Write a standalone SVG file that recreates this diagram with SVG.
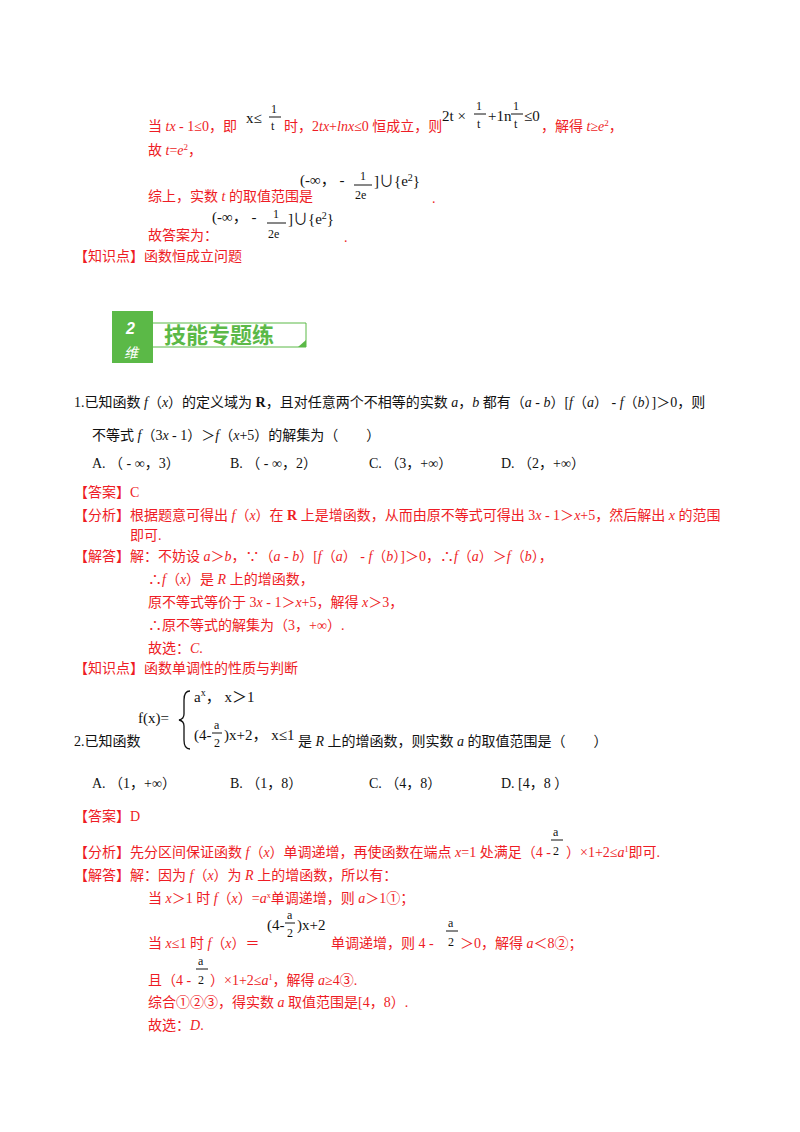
<svg xmlns="http://www.w3.org/2000/svg" width="800" height="1132" viewBox="0 0 800 1132">
<style>
text{font-family:"Liberation Serif","Noto Sans CJK SC",serif;font-size:14px}
.r{fill:#ee1c25}
.k{fill:#111}
.m{fill:#111}
text.m{font-size:15px}
text.s{font-size:12px}
.i{font-style:italic}
</style>
<rect width="800" height="1132" fill="#fff"/>
<g id="part1">
<text x="148" y="131" class="r">当 <tspan class="i">tx</tspan> - 1≤0，即</text>
<text x="246" y="123" class="m">x≤</text>
<text x="271" y="113" class="m s">1</text><line x1="269" y1="117" x2="281" y2="117" stroke="#111"/><text x="271" y="130" class="m s">t</text>
<text x="284" y="131" class="r">时，2<tspan class="i">tx</tspan>+<tspan class="i">lnx</tspan>≤0 恒成立，则</text>
<text x="442" y="121" class="m">2t ×</text>
<text x="476" y="110" class="m s">1</text><line x1="474" y1="114" x2="486" y2="114" stroke="#111"/><text x="477" y="128" class="m s">t</text>
<text x="488" y="121" class="m">+1n</text>
<text x="513" y="110" class="m s">1</text><line x1="511" y1="114" x2="523" y2="114" stroke="#111"/><text x="514" y="128" class="m s">t</text>
<text x="524" y="121" class="m">≤0</text>
<text x="541" y="131" class="r">，解得 <tspan class="i">t</tspan>≥<tspan class="i">e</tspan><tspan dy="-5" font-size="9">2</tspan><tspan dy="5">，</tspan></text>
<text x="148" y="155" class="r">故 <tspan class="i">t</tspan>=<tspan class="i">e</tspan><tspan dy="-5" font-size="9">2</tspan><tspan dy="5">，</tspan></text>
<text x="148" y="201" class="r">综上，实数 <tspan class="i">t</tspan> 的取值范围是</text>
<text x="300" y="185" class="m">(-∞， -</text>
<text x="360" y="180" class="m s">1</text><line x1="354" y1="185" x2="372" y2="185" stroke="#111"/><text x="355" y="199" class="m s">2e</text>
<text x="374" y="186" class="m">]∪{e<tspan dy="-5" font-size="10">2</tspan><tspan dy="5">}</tspan></text>
<text x="432" y="203" class="r">.</text>
<text x="148" y="240" class="r">故答案为：</text>
<text x="212" y="222" class="m">(-∞， -</text>
<text x="273" y="218" class="m s">1</text><line x1="267" y1="223" x2="286" y2="223" stroke="#111"/><text x="268" y="238" class="m s">2e</text>
<text x="288" y="224" class="m">]∪{e<tspan dy="-5" font-size="10">2</tspan><tspan dy="5">}</tspan></text>
<text x="344" y="242" class="r">.</text>
<text x="74" y="261" class="r">【知识点】函数恒成立问题</text>
</g>
<g id="banner">
<rect x="112" y="311" width="41" height="52" fill="#5bb947"/>
<text x="126" y="334" fill="#fff" style="font-family:'Liberation Sans',sans-serif;font-size:16px;font-weight:bold;font-style:italic">2</text>
<text x="124" y="358" fill="#fff" style="font-family:'Noto Sans CJK SC',sans-serif;font-size:14px;font-style:italic">维</text>
<polyline points="153,323 306,323 306,347 153,347" fill="none" stroke="#5bb947" stroke-width="1"/>
<polygon points="298,347 306,347 306,340" fill="#5bb947"/>
<text x="164" y="343" fill="#5bb947" style="font-family:'Noto Sans CJK SC',sans-serif;font-size:22px;font-weight:bold">技能专题练</text>
</g>
<g id="q1">
<text x="74" y="407" class="k">1.已知函数 <tspan class="i">f</tspan>（<tspan class="i">x</tspan>）的定义域为 <tspan font-weight="bold">R</tspan>，且对任意两个不相等的实数 <tspan class="i">a</tspan>，<tspan class="i">b</tspan> 都有（<tspan class="i">a</tspan> - <tspan class="i">b</tspan>）[<tspan class="i">f</tspan>（<tspan class="i">a</tspan>） - <tspan class="i">f</tspan>（<tspan class="i">b</tspan>）]＞0，则</text>
<text x="92" y="440" class="k">不等式 <tspan class="i">f</tspan>（3<tspan class="i">x</tspan> - 1）＞<tspan class="i">f</tspan>（<tspan class="i">x</tspan>+5）的解集为（　　）</text>
<text x="92" y="468" class="k">A. （ - ∞，3）</text>
<text x="230" y="468" class="k">B. （ - ∞，2）</text>
<text x="369" y="468" class="k">C. （3，+∞）</text>
<text x="501" y="468" class="k">D. （2，+∞）</text>
<text x="74" y="497" class="r">【答案】C</text>
<text x="74" y="520" class="r">【分析】根据题意可得出 <tspan class="i">f</tspan>（<tspan class="i">x</tspan>）在 <tspan font-weight="bold">R</tspan> 上是增函数，从而由原不等式可得出 3<tspan class="i">x</tspan> - 1＞<tspan class="i">x</tspan>+5，然后解出 <tspan class="i">x</tspan> 的范围</text>
<text x="130" y="540" class="r">即可.</text>
<text x="74" y="561" class="r">【解答】解：不妨设 <tspan class="i">a</tspan>＞<tspan class="i">b</tspan>，∵（<tspan class="i">a</tspan> - <tspan class="i">b</tspan>）[<tspan class="i">f</tspan>（<tspan class="i">a</tspan>） - <tspan class="i">f</tspan>（<tspan class="i">b</tspan>）]＞0，∴<tspan class="i">f</tspan>（<tspan class="i">a</tspan>）＞<tspan class="i">f</tspan>（<tspan class="i">b</tspan>），</text>
<text x="148" y="584" class="r">∴<tspan class="i">f</tspan>（<tspan class="i">x</tspan>）是 <tspan class="i">R</tspan> 上的增函数，</text>
<text x="148" y="607" class="r">原不等式等价于 3<tspan class="i">x</tspan> - 1＞<tspan class="i">x</tspan>+5，解得 <tspan class="i">x</tspan>＞3，</text>
<text x="148" y="630" class="r">∴原不等式的解集为（3，+∞）.</text>
<text x="148" y="653" class="r">故选：<tspan class="i">C</tspan>.</text>
<text x="74" y="673" class="r">【知识点】函数单调性的性质与判断</text>
</g>
<g id="q2">
<text x="138" y="723" class="m">f(x)=</text>
<path d="M190,691 Q184,691 184,700 L184,714 Q184,719 179,720 Q184,721 184,726 L184,740 Q184,749 190,749" fill="none" stroke="#111" stroke-width="1.3"/>
<text x="194" y="702" class="m">a<tspan dy="-6" font-size="10">x</tspan><tspan dy="6">，  x＞1</tspan></text>
<text x="194" y="740" class="m">(4-</text>
<text x="214" y="729" class="m s">a</text><line x1="212" y1="733" x2="222" y2="733" stroke="#111"/><text x="214" y="747" class="m s">2</text>
<text x="224" y="740" class="m">)x+2，  x≤1</text>
<text x="74" y="746" class="k">2.已知函数</text>
<text x="298" y="746" class="k">是 <tspan class="i">R</tspan> 上的增函数，则实数 <tspan class="i">a</tspan> 的取值范围是（　　）</text>
<text x="92" y="788" class="k">A. （1，+∞）</text>
<text x="230" y="788" class="k">B. （1，8）</text>
<text x="369" y="788" class="k">C. （4，8）</text>
<text x="501" y="788" class="k">D. [4，8 ）</text>
<text x="74" y="821" class="r">【答案】D</text>
<text x="74" y="857" class="r">【分析】先分区间保证函数 <tspan class="i">f</tspan>（<tspan class="i">x</tspan>）单调递增，再使函数在端点 <tspan class="i">x</tspan>=1 处满足（4 -</text>
<text x="553" y="836" class="m s">a</text><line x1="551" y1="840" x2="563" y2="840" stroke="#111"/><text x="553" y="855" class="m s">2</text>
<text x="566" y="857" class="r">）×1+2≤<tspan class="i">a</tspan><tspan dy="-5" font-size="8">1</tspan><tspan dy="5">即可.</tspan></text>
<text x="74" y="880" class="r">【解答】解：因为 <tspan class="i">f</tspan>（<tspan class="i">x</tspan>）为 <tspan class="i">R</tspan> 上的增函数，所以有：</text>
<text x="148" y="903" class="r">当 <tspan class="i">x</tspan>＞1 时 <tspan class="i">f</tspan>（<tspan class="i">x</tspan>）=<tspan class="i">a</tspan><tspan dy="-5" font-size="8">x</tspan><tspan dy="5">单调递增，则 </tspan><tspan class="i">a</tspan>＞1①；</text>
<text x="148" y="948" class="r">当 <tspan class="i">x</tspan>≤1 时 <tspan class="i">f</tspan>（<tspan class="i">x</tspan>）＝</text>
<text x="267" y="930" class="m">(4-</text>
<text x="287" y="919" class="m s">a</text><line x1="285" y1="923" x2="295" y2="923" stroke="#111"/><text x="287" y="937" class="m s">2</text>
<text x="297" y="930" class="m">)x+2</text>
<text x="331" y="948" class="r">单调递增，则 4 -</text>
<text x="448" y="927" class="m s">a</text><line x1="446" y1="931" x2="458" y2="931" stroke="#111"/><text x="448" y="946" class="m s">2</text>
<text x="460" y="948" class="r">＞0，解得 <tspan class="i">a</tspan>＜8②；</text>
<text x="148" y="985" class="r">且（4 -</text>
<text x="198" y="965" class="m s">a</text><line x1="196" y1="969" x2="208" y2="969" stroke="#111"/><text x="198" y="984" class="m s">2</text>
<text x="210" y="985" class="r">）×1+2≤<tspan class="i">a</tspan><tspan dy="-5" font-size="8">1</tspan><tspan dy="5">，解得 </tspan><tspan class="i">a</tspan>≥4③.</text>
<text x="148" y="1007" class="r">综合①②③，得实数 <tspan class="i">a</tspan> 取值范围是[4，8）.</text>
<text x="148" y="1030" class="r">故选：<tspan class="i">D</tspan>.</text>
</g>
</svg>
